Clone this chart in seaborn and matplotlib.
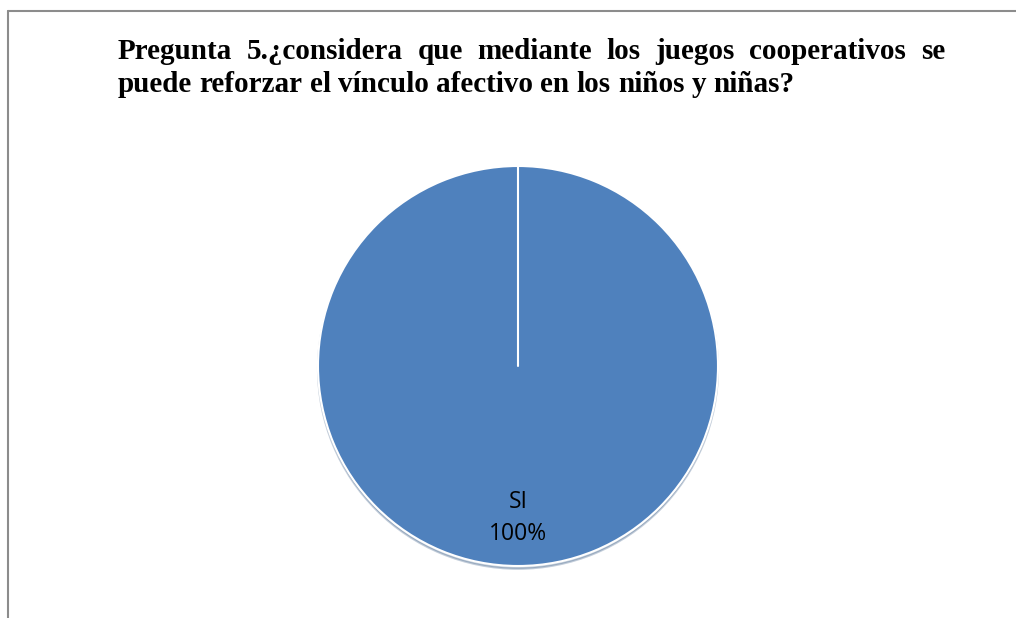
import numpy as np
import matplotlib
matplotlib.use("Agg")
import matplotlib.pyplot as plt
from matplotlib.lines import Line2D
import seaborn as sns

# Chart data
categories = ["SI"]
values = [100]
title_lines = [
    "Pregunta 5.¿considera que mediante los juegos cooperativos se",
    "puede reforzar el vínculo afectivo en los niños y niñas?",
]

W, H = 1016, 618
sns.set_theme(style="white")
plt.rcParams["font.family"] = ["Liberation Sans", "DejaVu Sans"]

fig = plt.figure(figsize=(W / 100, H / 100), dpi=100)
fig.patch.set_facecolor("white")


def px(x, y):
    # pixel (from top-left) -> figure fraction
    return x / W, 1 - y / H


# outer frame (only left and top edges are visible)
x0, y0 = px(8, 11)
fig.add_artist(Line2D([x0, x0], [y0, 0], color="#8c8c8c", lw=1.5, transform=fig.transFigure))
fig.add_artist(Line2D([x0, 1], [y0, y0], color="#8c8c8c", lw=1.5, transform=fig.transFigure))

# justified title
title_font = dict(family="Liberation Serif", weight="bold", size=21, color="black")
left_px, right_px = 118, 945
baselines = [59, 92]
renderer = fig.canvas.get_renderer()
space_w = None
for i, line in enumerate(title_lines):
    words = line.split(" ")
    texts = [fig.text(0, px(0, baselines[i])[1], w, va="baseline", ha="left", **title_font) for w in words]
    widths = [t.get_window_extent(renderer).width for t in texts]
    if space_w is None:
        probe = fig.text(0, 0, "a a", **title_font)
        probe2 = fig.text(0, 0, "aa", **title_font)
        space_w = probe.get_window_extent(renderer).width - probe2.get_window_extent(renderer).width
        probe.remove()
        probe2.remove()
    if i < len(title_lines) - 1:
        gap = (right_px - left_px - sum(widths)) / (len(words) - 1)
    else:
        gap = space_w
    xcur = left_px
    for t, w in zip(texts, widths):
        t.set_x(xcur / W)
        xcur += w + gap

# pie axes: centre (518, 366), radius 200 px
cx, cy, r = 518, 366, 200
lim = 1.1
ax = fig.add_axes([(cx - r * lim) / W, (H - cy - r * lim) / H, 2 * r * lim / W, 2 * r * lim / H])
colors = sns.color_palette(["#4F81BD"])
total = sum(values)
labels = [f"{c}\n{v / total * 100:.0f}%" for c, v in zip(categories, values)]
start = 90
wedges, texts = ax.pie(
    values,
    labels=labels,
    colors=colors,
    startangle=start,
    counterclock=False,
    labeldistance=0.76,
    shadow={"ox": 0.0, "oy": -0.01, "shade": 0.3, "alpha": 0.3},
    wedgeprops=dict(edgecolor="white", linewidth=1.5),
    textprops=dict(ha="center", va="center", fontsize=16.5, color="black",
                   family=["Open Sans", "DejaVu Sans"], linespacing=1.45),
)
# wedge boundary at the start angle
a = np.deg2rad(start)
ax.plot([0, np.cos(a)], [0, np.sin(a)], color="white", lw=1.5, zorder=5)
ax.set_xlim(-lim, lim)
ax.set_ylim(-lim, lim)
ax.set_aspect("equal")
ax.axis("off")

fig.savefig("out.png", dpi=100, facecolor="white")
